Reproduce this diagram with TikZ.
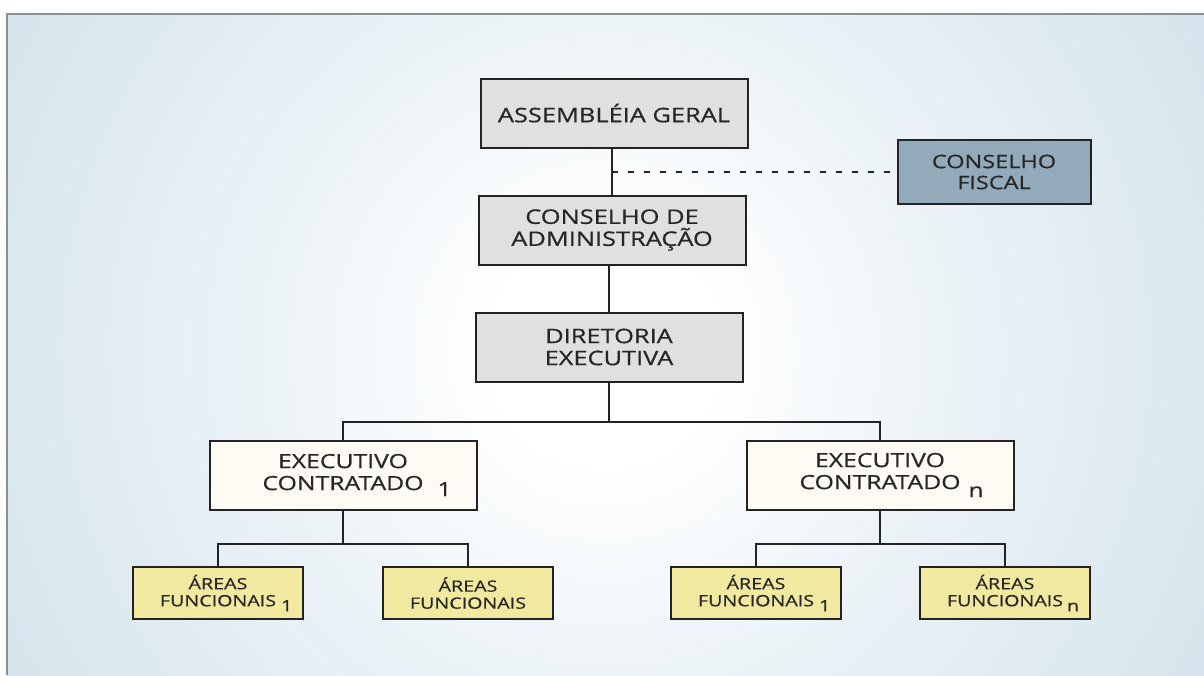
\documentclass[tikz,border=0pt]{standalone}
\usepackage{fontspec}
\setmainfont{Open Sans}[FakeStretch=1.27,FakeBold=0.6]
\definecolor{bgc1}{RGB}{236,243,247}
\definecolor{bgc2}{RGB}{214,229,237}
\definecolor{bgc3}{RGB}{208,227,235}
\definecolor{bgc4}{RGB}{198,221,230}
\definecolor{bgc5}{RGB}{188,213,224}
\definecolor{panelline}{RGB}{138,144,150}
\definecolor{boxgray}{RGB}{224,224,224}
\definecolor{boxcream}{RGB}{253,251,243}
\definecolor{boxyellow}{RGB}{242,233,160}
\definecolor{boxsteel}{RGB}{147,170,187}
\definecolor{edge}{RGB}{35,35,35}
\pgfdeclareradialshading{panelshade}{\pgfpoint{0bp}{0bp}}{color(0bp)=(white); color(4bp)=(white); color(12bp)=(bgc1); color(24bp)=(bgc2); color(34bp)=(bgc3); color(43bp)=(bgc4); color(50bp)=(bgc5)}
\newcommand\subidx[3][6pt]{\rlap{\hspace{#1}\raisebox{-#2}{#3}}}

\begin{document}
\begin{tikzpicture}[x=1pt,y=-1pt,
    org/.style={draw=edge,line width=2pt,inner sep=0pt,align=center,text=black!85},
    topbox/.style={org,fill=boxgray,minimum width=267pt,minimum height=69pt,font=\fontsize{20}{22}\selectfont},
    execbox/.style={org,fill=boxcream,minimum width=267pt,minimum height=69pt,font=\fontsize{19.5}{22}\selectfont},
    areabox/.style={org,fill=boxyellow,minimum width=170pt,minimum height=52pt,font=\fontsize{15.5}{17}\selectfont},
    fiscalbox/.style={org,fill=boxsteel,minimum width=193pt,minimum height=64pt,font=\fontsize{18.5}{21}\selectfont},
    link/.style={draw=edge,line width=2pt}]

\useasboundingbox (0,0) rectangle (1204,675);

% Background panel
\begin{scope}
  \clip (7,14) rectangle (1204,675);
  \shade[shading=panelshade] (-95,-350) rectangle (1305,1050);
\end{scope}
\draw[panelline,line width=1.2pt] (7,675) -- (7,14) -- (1204,14);

% Top of the structure
\node[topbox] (ag) at (614,113) {ASSEMBLÉIA GERAL};
\node[topbox] (ca) at (612,230) {CONSELHO DE\\ADMINISTRAÇÃO};
\node[topbox] (de) at (609,347) {DIRETORIA\\EXECUTIVA};
\node[fiscalbox] (cf) at (994,172) {CONSELHO\\FISCAL};

% Executives
\node[execbox] (ex1) at (343,475) {EXECUTIVO\\CONTRATADO\subidx[14pt]{6pt}{1}};
\node[execbox] (exn) at (880,475) {EXECUTIVO\\CONTRATADO\subidx[8pt]{8pt}{n}};

% Functional areas
\node[areabox] (af1) at (218,593) {ÁREAS\\FUNCIONAIS\subidx[5pt]{5pt}{1}};
\node[areabox] (af2) at (468,593) {ÁREAS\\FUNCIONAIS};
\node[areabox] (af3) at (756,593) {ÁREAS\\FUNCIONAIS\subidx[5pt]{5pt}{1}};
\node[areabox] (af4) at (1005,593) {ÁREAS\\FUNCIONAIS\subidx[4pt]{5pt}{n}};

% Links
\draw[link] (ca.north |- ag.south) -- (ca.north);
\draw[link] (de.north |- ca.south) -- (de.north);
\draw[link,line width=1.5pt,dash pattern=on 6pt off 10pt] (cf.west -| ca.north) -- (cf.west);

\coordinate (busA) at (609,422);
\draw[link] (de.south) -- (busA);
\draw[link] (ex1.north) |- (busA) -| (exn.north);

\coordinate (busB) at (343,544);
\draw[link] (ex1.south) -- (busB);
\draw[link] (af1.north) |- (busB) -| (af2.north);

\coordinate (busC) at (880,544);
\draw[link] (exn.south) -- (busC);
\draw[link] (af3.north) |- (busC) -| (af4.north);

\end{tikzpicture}
\end{document}
